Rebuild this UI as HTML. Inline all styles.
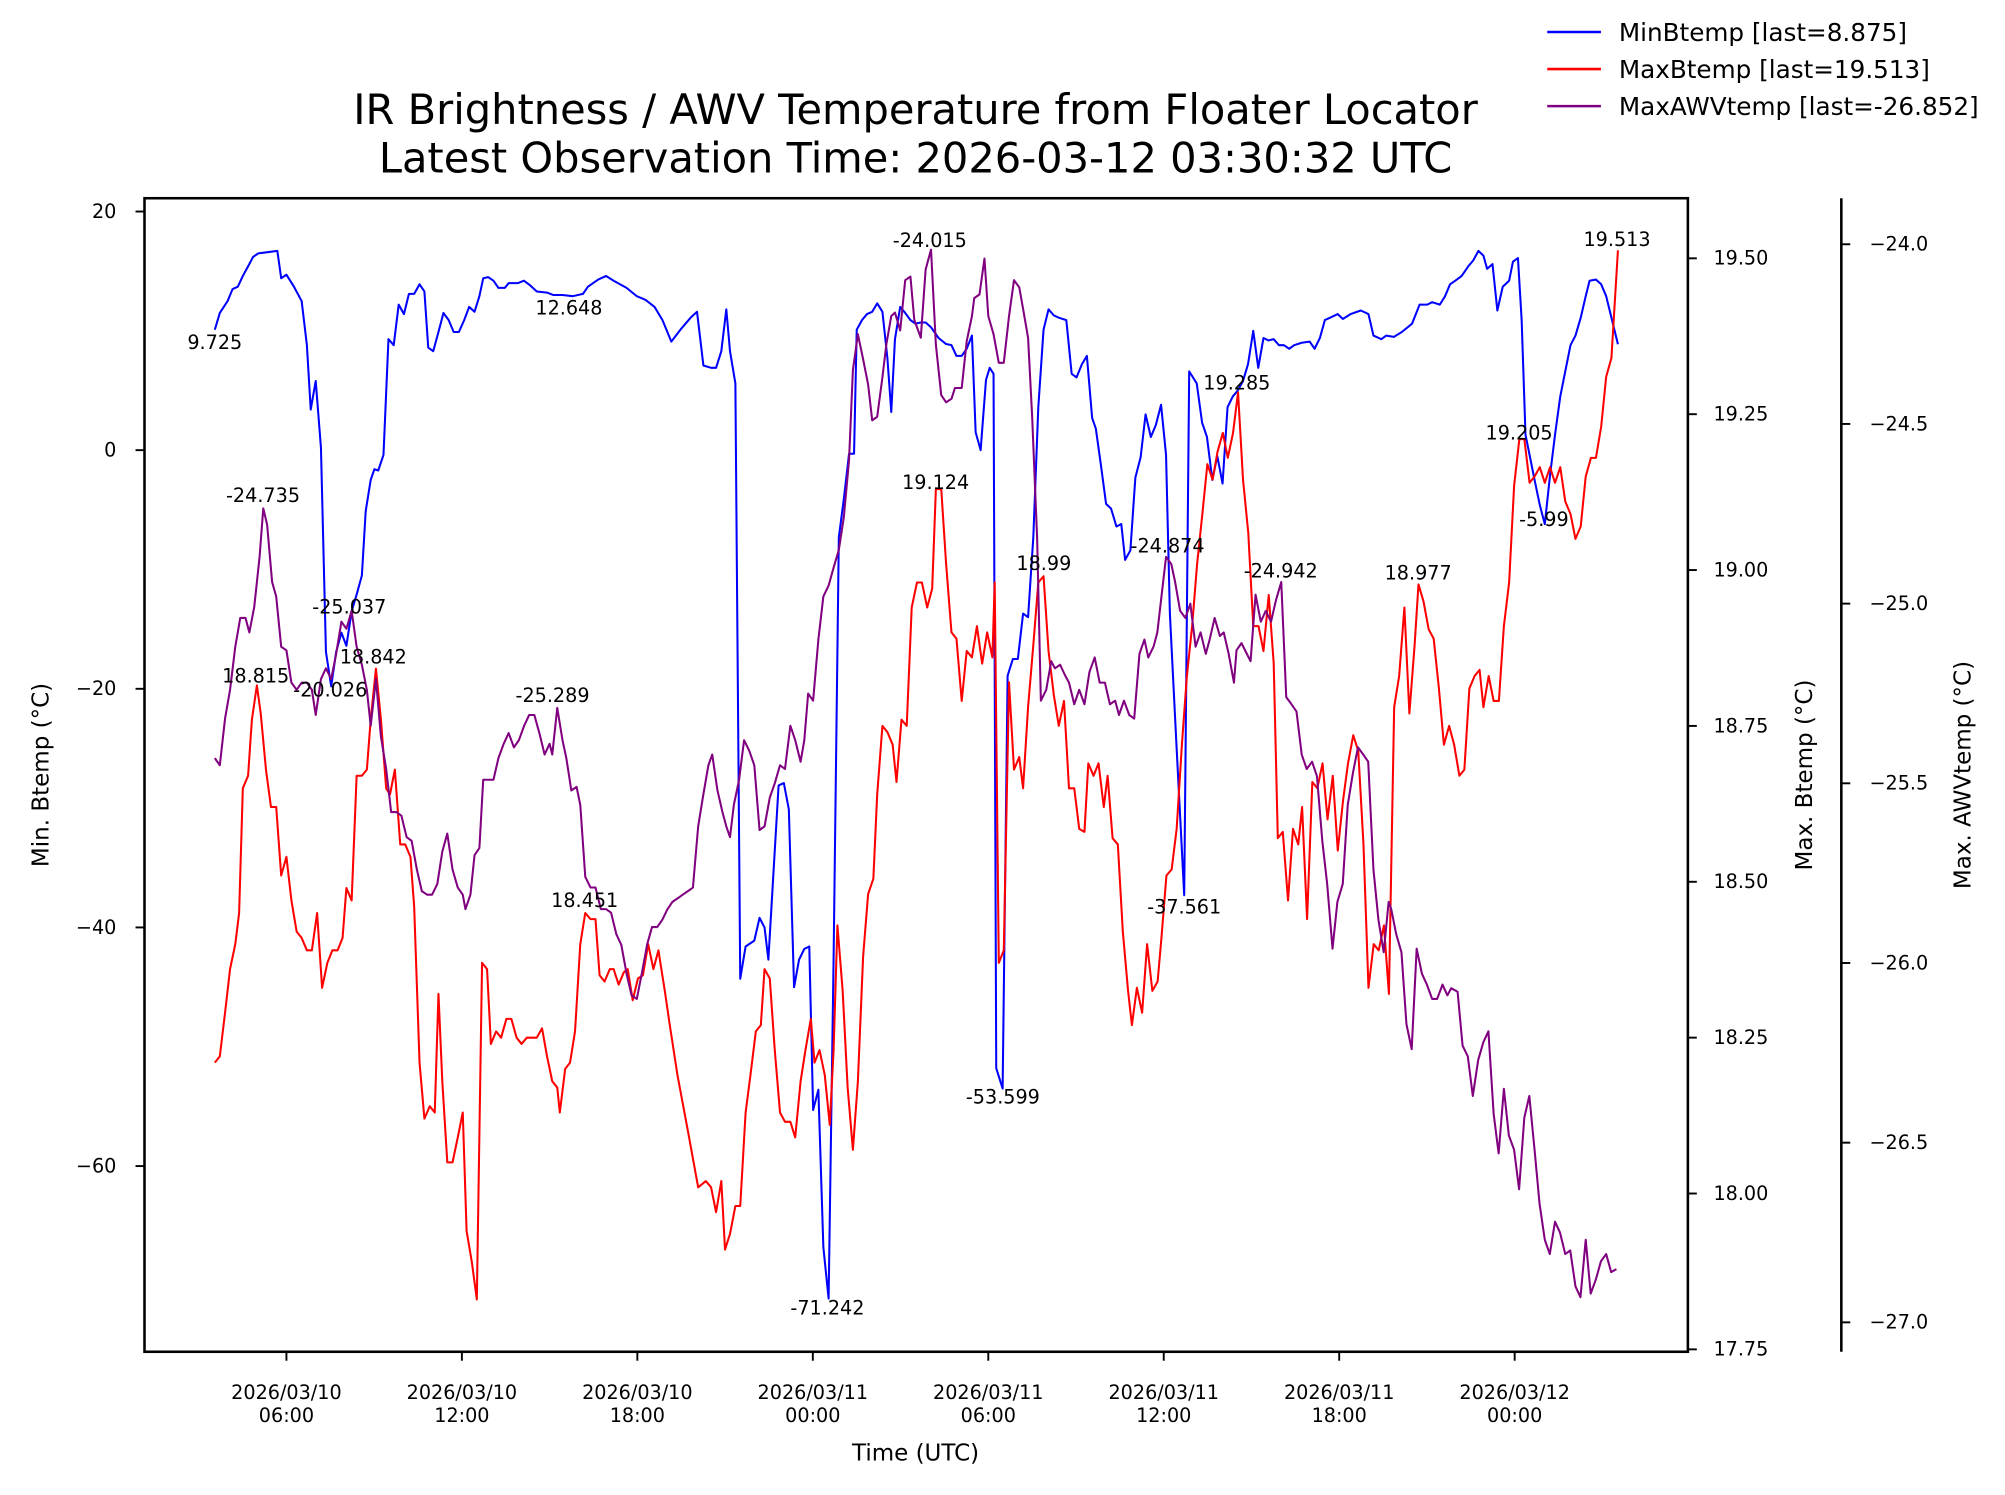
<!DOCTYPE html>
<html><head><meta charset="utf-8">
<style>
html,body{margin:0;padding:0;background:#fff;overflow:hidden;width:2005px;height:1495px;}
svg{display:block;font-family:"DejaVu Sans","Liberation Sans",sans-serif;}
</style></head>
<body>
<svg id="chart" width="2005" height="1495" viewBox="0 0 1568 1169" preserveAspectRatio="none" xmlns="http://www.w3.org/2000/svg">
<rect x="0" y="0" width="1568" height="1169" fill="#fff"/>
<text x="716" y="97" text-anchor="middle" font-size="32.5">IR Brightness / AWV Temperature from Floater Locator</text>
<text x="716" y="135" text-anchor="middle" font-size="32.5">Latest Observation Time: 2026-03-12 03:30:32 UTC</text>
<g id="plot"></g>
<g>
 <g><line x1="1210" y1="25" x2="1252" y2="25" stroke="#0000ff" stroke-width="2"/><text x="1266" y="32" font-size="19.3">MinBtemp [last=8.875]</text></g>
 <g><line x1="1210" y1="54" x2="1252" y2="54" stroke="#ff0000" stroke-width="2"/><text x="1266" y="61" font-size="19.3">MaxBtemp [last=19.513]</text></g>
 <g><line x1="1210" y1="83" x2="1252" y2="83" stroke="#800080" stroke-width="2"/><text x="1266" y="90" font-size="19.3">MaxAWVtemp [last=-26.852]</text></g>
</g>
</svg>
<script>
// ---- data (hours since 2026-03-10 00:00 UTC) ----
const minTimes=[3.55,3.72,3.99,4.16,4.34,4.51,4.69,4.86,5.04,5.39,5.69,5.82,6.0,6.26,6.52,6.70,6.83,7.0,7.18,7.35,7.53,7.70,7.88,8.05,8.23,8.40,8.58,8.71,8.88,9.01,9.14,9.32,9.49,9.67,9.84,10.02,10.19,10.37,10.55,10.72,10.85,11.02,11.20,11.37,11.55,11.72,11.90,12.08,12.25,12.43,12.60,12.73,12.90,13.08,13.25,13.47,13.60,13.91,14.12,14.34,14.56,14.91,15.13,15.44,15.79,16.14,16.31,16.66,16.93,17.19,17.63,17.98,18.28,18.59,18.86,19.16,19.47,19.82,20.04,20.26,20.52,20.69,20.87,21.04,21.17,21.35,21.52,21.70,22.0,22.18,22.35,22.48,22.66,22.83,23.01,23.18,23.36,23.53,23.71,23.88,24.01,24.19,24.36,24.54,24.71,24.89,25.06,25.24,25.41,25.50,25.68,25.85,26.03,26.20,26.38,26.55,26.68,26.81,26.99,27.16,27.34,27.51,27.69,27.86,28.04,28.30,28.56,28.74,28.91,29.09,29.26,29.44,29.57,29.74,29.92,30.05,30.18,30.27,30.49,30.66,30.84,31.01,31.19,31.36,31.54,31.71,31.89,32.06,32.24,32.41,32.67,32.85,33.02,33.20,33.37,33.55,33.68,33.85,34.03,34.20,34.38,34.55,34.68,34.86,35.03,35.21,35.38,35.56,35.73,35.91,36.08,36.21,36.43,36.70,36.87,37.13,37.31,37.48,37.66,37.83,38.01,38.18,38.36,38.53,38.71,38.88,39.06,39.23,39.41,39.58,39.76,39.94,40.11,40.29,40.46,40.72,40.99,41.16,41.34,41.51,41.69,41.95,42.12,42.39,42.74,43.00,43.17,43.44,43.61,43.87,44.14,44.49,44.75,45.01,45.18,45.44,45.62,45.79,45.97,46.19,46.41,46.58,46.76,46.93,47.06,47.24,47.41,47.59,47.81,47.94,48.11,48.24,48.37,48.50,48.68,48.86,49.03,49.21,49.38,49.56,49.73,49.91,50.08,50.26,50.43,50.56,50.78,50.96,51.13,51.31,51.53];
const minBtemp=[10.1,11.5,12.5,13.5,13.7,14.6,15.4,16.2,16.5,16.6,16.7,14.4,14.7,13.7,12.5,8.8,3.4,5.8,0.2,-16.9,-19.8,-16.9,-15.3,-16.4,-13.5,-12.1,-10.5,-5.1,-2.5,-1.6,-1.7,-0.4,9.3,8.8,12.2,11.4,13.1,13.1,13.9,13.3,8.6,8.3,9.9,11.5,10.9,9.9,9.9,10.9,12.0,11.6,12.9,14.4,14.5,14.2,13.6,13.6,14.0,14.0,14.2,13.8,13.3,13.2,13.0,13.0,12.9,13.1,13.7,14.3,14.6,14.2,13.6,12.9,12.6,12.0,10.9,9.1,10.1,11.1,11.6,7.1,6.9,6.9,8.3,11.8,8.3,5.6,-44.3,-41.6,-41.1,-39.2,-40.0,-42.7,-35.2,-28.1,-27.9,-30.1,-45.0,-42.7,-41.8,-41.6,-55.3,-53.6,-66.8,-71.1,-42.7,-7.3,-4.1,-0.3,-0.3,10.1,10.9,11.4,11.6,12.3,11.6,7.7,3.2,9.3,12.0,11.5,10.9,10.6,10.7,10.7,10.3,9.4,8.9,8.8,7.9,7.9,8.5,9.6,1.5,0.0,5.9,6.9,6.4,-51.8,-53.5,-18.9,-17.5,-17.5,-13.7,-14.0,-7.3,3.6,10.1,11.8,11.3,11.1,10.9,6.4,6.1,7.2,7.9,2.7,1.8,-1.2,-4.5,-4.9,-6.4,-6.2,-9.2,-8.4,-2.3,-0.6,3.0,1.1,2.1,3.8,-0.4,-13.7,-24.4,-37.3,6.6,5.6,2.3,1.1,-2.5,-0.5,-2.8,3.6,4.5,5.0,5.8,7.2,10.0,6.9,9.4,9.2,9.3,8.8,8.8,8.5,8.8,9.0,9.1,8.5,9.4,10.9,11.1,11.4,11.0,11.4,11.7,11.4,9.6,9.3,9.6,9.5,9.9,10.6,12.2,12.2,12.4,12.2,12.9,13.9,14.2,14.6,15.4,15.9,16.7,16.3,15.2,15.6,11.7,13.7,14.2,15.8,16.1,10.9,1.3,-0.3,-2.5,-4.6,-6.2,-2.1,1.3,4.5,6.6,8.8,9.6,11.1,12.9,14.2,14.3,13.9,12.9,11.1,8.875];

const maxTimes=[3.55,3.72,3.90,4.07,4.25,4.38,4.51,4.69,4.82,4.99,5.12,5.30,5.47,5.65,5.82,6.0,6.17,6.35,6.52,6.70,6.87,7.05,7.22,7.40,7.57,7.75,7.92,8.05,8.23,8.40,8.58,8.75,8.88,9.06,9.23,9.41,9.54,9.71,9.89,10.06,10.24,10.37,10.55,10.72,10.90,11.07,11.20,11.33,11.50,11.68,11.86,12.03,12.16,12.34,12.51,12.69,12.86,12.99,13.17,13.34,13.52,13.69,13.87,14.04,14.22,14.39,14.56,14.74,14.91,15.09,15.26,15.35,15.53,15.70,15.87,16.05,16.22,16.40,16.57,16.71,16.88,17.06,17.19,17.36,17.54,17.67,17.84,18.02,18.19,18.37,18.55,18.72,18.94,19.11,19.37,19.73,20.08,20.34,20.52,20.69,20.87,21.0,21.17,21.35,21.52,21.70,21.87,22.05,22.22,22.35,22.53,22.70,22.88,23.05,23.23,23.40,23.58,23.75,23.93,24.06,24.23,24.41,24.58,24.71,24.84,25.02,25.19,25.37,25.54,25.72,25.89,26.07,26.20,26.38,26.55,26.73,26.86,27.03,27.21,27.38,27.56,27.73,27.91,28.08,28.21,28.39,28.56,28.74,28.91,29.09,29.26,29.44,29.61,29.79,29.96,30.14,30.22,30.36,30.53,30.71,30.88,31.06,31.19,31.36,31.54,31.71,31.89,32.06,32.24,32.41,32.59,32.76,32.94,33.11,33.29,33.42,33.60,33.77,33.95,34.08,34.25,34.43,34.60,34.78,34.91,35.08,35.26,35.43,35.61,35.79,35.92,36.09,36.27,36.44,36.62,36.79,36.97,37.14,37.32,37.49,37.67,37.84,38.02,38.19,38.37,38.54,38.71,38.89,39.06,39.24,39.41,39.59,39.76,39.90,40.07,40.25,40.42,40.60,40.73,40.90,41.08,41.25,41.43,41.60,41.78,41.95,42.13,42.30,42.48,42.65,42.83,43.0,43.18,43.35,43.53,43.70,43.88,44.05,44.23,44.40,44.58,44.71,44.88,45.06,45.23,45.41,45.58,45.76,45.93,46.11,46.28,46.45,46.63,46.80,46.93,47.11,47.28,47.46,47.63,47.81,47.98,48.16,48.33,48.51,48.68,48.86,49.03,49.21,49.38,49.56,49.73,49.91,50.08,50.26,50.43,50.61,50.78,50.96,51.13,51.31,51.53];
const maxBtemp=[18.21,18.22,18.29,18.36,18.40,18.45,18.65,18.67,18.76,18.815,18.77,18.68,18.62,18.62,18.51,18.54,18.47,18.42,18.41,18.39,18.39,18.45,18.33,18.37,18.39,18.39,18.41,18.49,18.47,18.67,18.67,18.68,18.76,18.842,18.76,18.65,18.64,18.68,18.56,18.56,18.54,18.46,18.21,18.12,18.14,18.13,18.32,18.18,18.05,18.05,18.09,18.13,17.94,17.89,17.83,18.37,18.36,18.24,18.26,18.25,18.28,18.28,18.25,18.24,18.25,18.25,18.25,18.265,18.22,18.18,18.17,18.13,18.20,18.21,18.26,18.40,18.45,18.44,18.44,18.35,18.34,18.36,18.36,18.335,18.355,18.36,18.31,18.345,18.35,18.40,18.36,18.39,18.325,18.27,18.19,18.10,18.01,18.02,18.01,17.97,18.02,17.91,17.935,17.98,17.98,18.13,18.19,18.26,18.27,18.36,18.345,18.23,18.13,18.115,18.115,18.09,18.18,18.23,18.28,18.21,18.23,18.19,18.11,18.23,18.43,18.325,18.17,18.07,18.18,18.38,18.48,18.505,18.64,18.75,18.74,18.72,18.66,18.76,18.75,18.94,18.98,18.98,18.94,18.97,19.13,19.13,19.01,18.90,18.89,18.79,18.87,18.86,18.91,18.85,18.90,18.86,18.98,18.37,18.39,18.82,18.68,18.70,18.65,18.78,18.88,18.98,18.99,18.87,18.80,18.75,18.79,18.65,18.65,18.585,18.58,18.69,18.67,18.69,18.62,18.67,18.57,18.56,18.42,18.325,18.27,18.33,18.29,18.40,18.325,18.34,18.41,18.51,18.52,18.585,18.72,18.83,18.91,19.01,19.09,19.17,19.145,19.19,19.22,19.18,19.22,19.285,19.145,19.06,18.91,18.91,18.87,18.96,18.85,18.57,18.58,18.47,18.585,18.56,18.62,18.44,18.66,18.65,18.69,18.60,18.67,18.55,18.63,18.69,18.735,18.71,18.56,18.33,18.40,18.39,18.43,18.32,18.78,18.83,18.94,18.77,18.88,18.977,18.95,18.905,18.89,18.81,18.72,18.75,18.72,18.67,18.68,18.81,18.83,18.84,18.78,18.83,18.79,18.79,18.91,18.98,19.135,19.21,19.21,19.14,19.15,19.165,19.14,19.165,19.14,19.165,19.11,19.09,19.05,19.07,19.15,19.18,19.18,19.23,19.31,19.34,19.513];

const awvTimes=[3.55,3.72,3.90,4.07,4.25,4.42,4.60,4.73,4.90,5.08,5.21,5.34,5.51,5.65,5.82,6.0,6.17,6.35,6.52,6.70,6.87,7.00,7.18,7.35,7.53,7.70,7.88,8.05,8.23,8.40,8.58,8.75,8.88,9.06,9.23,9.41,9.58,9.76,9.93,10.11,10.28,10.46,10.63,10.81,10.98,11.16,11.33,11.50,11.68,11.86,12.03,12.12,12.29,12.43,12.60,12.73,12.90,13.08,13.25,13.43,13.60,13.78,13.95,14.13,14.30,14.48,14.65,14.83,15.00,15.09,15.26,15.44,15.57,15.74,15.92,16.05,16.22,16.40,16.57,16.75,16.93,17.10,17.28,17.45,17.63,17.80,17.98,18.15,18.33,18.50,18.68,18.85,19.03,19.20,19.38,19.55,19.73,19.90,20.08,20.26,20.43,20.56,20.74,20.91,21.04,21.17,21.30,21.48,21.65,21.83,22.0,22.18,22.35,22.53,22.70,22.88,23.05,23.23,23.40,23.58,23.71,23.84,24.01,24.19,24.36,24.54,24.71,24.89,25.06,25.24,25.37,25.54,25.72,25.89,26.03,26.20,26.38,26.51,26.68,26.81,26.99,27.16,27.34,27.47,27.69,27.86,28.04,28.21,28.39,28.56,28.74,28.86,29.09,29.26,29.44,29.52,29.70,29.87,30.00,30.18,30.36,30.53,30.71,30.88,31.06,31.19,31.36,31.50,31.67,31.80,31.98,32.15,32.28,32.46,32.63,32.76,32.94,33.11,33.29,33.46,33.64,33.81,33.99,34.16,34.34,34.47,34.64,34.82,34.99,35.17,35.34,35.47,35.65,35.78,35.91,36.08,36.26,36.39,36.56,36.74,36.91,37.09,37.26,37.44,37.57,37.74,37.92,38.05,38.22,38.40,38.49,38.66,38.84,38.97,39.14,39.32,39.49,39.67,39.84,40.02,40.19,40.37,40.54,40.72,40.89,41.07,41.24,41.42,41.59,41.77,41.94,42.12,42.29,42.47,42.64,42.82,42.99,43.17,43.34,43.52,43.69,43.78,43.95,44.13,44.30,44.48,44.65,44.83,45.00,45.18,45.35,45.53,45.70,45.83,46.05,46.22,46.40,46.57,46.75,46.93,47.10,47.28,47.45,47.63,47.80,47.98,48.15,48.33,48.50,48.68,48.85,49.03,49.20,49.38,49.55,49.73,49.90,50.08,50.25,50.43,50.60,50.78,50.95,51.13,51.30,51.48,51.57];
const awvTemp=[-25.43,-25.45,-25.32,-25.24,-25.12,-25.04,-25.04,-25.08,-25.01,-24.87,-24.735,-24.78,-24.94,-24.98,-25.12,-25.13,-25.22,-25.24,-25.22,-25.22,-25.24,-25.31,-25.21,-25.18,-25.21,-25.14,-25.05,-25.07,-25.02,-25.12,-25.17,-25.24,-25.34,-25.21,-25.37,-25.46,-25.58,-25.58,-25.59,-25.65,-25.66,-25.74,-25.80,-25.81,-25.81,-25.78,-25.69,-25.64,-25.74,-25.79,-25.81,-25.85,-25.81,-25.70,-25.68,-25.49,-25.49,-25.49,-25.43,-25.39,-25.36,-25.40,-25.38,-25.34,-25.31,-25.31,-25.36,-25.42,-25.39,-25.42,-25.29,-25.38,-25.43,-25.52,-25.51,-25.56,-25.76,-25.79,-25.79,-25.85,-25.85,-25.86,-25.92,-25.95,-26.03,-26.09,-26.10,-26.03,-25.95,-25.90,-25.90,-25.88,-25.85,-25.83,-25.82,-25.81,-25.80,-25.79,-25.62,-25.53,-25.45,-25.42,-25.52,-25.58,-25.62,-25.65,-25.56,-25.49,-25.38,-25.41,-25.45,-25.63,-25.62,-25.54,-25.50,-25.45,-25.46,-25.34,-25.38,-25.44,-25.38,-25.25,-25.27,-25.10,-24.98,-24.95,-24.90,-24.85,-24.76,-24.60,-24.35,-24.25,-24.32,-24.39,-24.49,-24.48,-24.37,-24.28,-24.20,-24.19,-24.24,-24.10,-24.09,-24.21,-24.26,-24.07,-24.015,-24.28,-24.42,-24.44,-24.43,-24.40,-24.40,-24.27,-24.20,-24.15,-24.14,-24.04,-24.20,-24.25,-24.33,-24.33,-24.20,-24.10,-24.12,-24.18,-24.26,-24.48,-24.82,-25.27,-25.24,-25.16,-25.18,-25.17,-25.20,-25.22,-25.28,-25.24,-25.28,-25.19,-25.15,-25.22,-25.22,-25.28,-25.27,-25.31,-25.27,-25.31,-25.32,-25.14,-25.10,-25.15,-25.12,-25.08,-24.99,-24.87,-24.89,-24.94,-25.02,-25.04,-25.00,-25.12,-25.08,-25.14,-25.10,-25.04,-25.09,-25.08,-25.14,-25.22,-25.13,-25.11,-25.14,-25.16,-24.975,-25.05,-25.02,-25.05,-24.99,-24.94,-25.26,-25.28,-25.30,-25.42,-25.46,-25.44,-25.48,-25.66,-25.78,-25.96,-25.83,-25.78,-25.56,-25.47,-25.40,-25.42,-25.44,-25.74,-25.88,-25.97,-25.83,-25.85,-25.92,-25.97,-26.17,-26.24,-25.96,-26.03,-26.06,-26.10,-26.10,-26.06,-26.09,-26.07,-26.08,-26.23,-26.26,-26.37,-26.27,-26.22,-26.19,-26.42,-26.53,-26.35,-26.48,-26.52,-26.63,-26.43,-26.37,-26.52,-26.67,-26.77,-26.81,-26.72,-26.75,-26.81,-26.80,-26.90,-26.93,-26.77,-26.92,-26.88,-26.83,-26.81,-26.86,-26.852];

const xTickHours=[6,12,18,24,30,36,42,48];
const xTickLabels=[["2026/03/10","06:00"],["2026/03/10","12:00"],["2026/03/10","18:00"],["2026/03/11","00:00"],["2026/03/11","06:00"],["2026/03/11","12:00"],["2026/03/11","18:00"],["2026/03/12","00:00"]];
const minTicks=[20,0,-20,-40,-60];
const maxTicks=[19.5,19.25,19.0,18.75,18.5,18.25,18.0,17.75];
const maxTickLabels=["19.50","19.25","19.00","18.75","18.50","18.25","18.00","17.75"];
const awvTicks=[-24.0,-24.5,-25.0,-25.5,-26.0,-26.5,-27.0];
const awvTickLabels=["−24.0","−24.5","−25.0","−25.5","−26.0","−26.5","−27.0"];
const annLabels=["9.725","12.648","-20.026","-5.99","-71.242","-53.599","-37.561","18.815","18.842","18.451","19.124","18.99","19.285","18.977","19.205","19.513","-24.735","-25.037","-25.289","-24.015","-24.874","-24.942"];
const annSeries=["min","min","min","min","min","min","min","max","max","max","max","max","max","max","max","max","awv","awv","awv","awv","awv","awv"];
const annHours=[3.55,15.66,7.5,49.0,24.5,30.5,36.7,4.95,8.97,16.2,28.2,31.9,38.5,44.7,48.15,51.5,5.2,8.15,15.1,28.0,36.13,40.0];
const annValues=[9.0,11.9,-20.1,-5.8,-71.9,-54.2,-38.3,18.83,18.86,18.47,19.14,19.01,19.30,18.995,19.22,19.53,-24.70,-25.01,-25.256,-23.99,-24.84,-24.91];

// ---- scales ----
const L=113,R=1320,T=155,B=1057;
function xs(h){return 224+(h-6)*22.87;}
function yMin(v){return 352-v*9.33;}
function yMax(v){return 202+(19.5-v)*487.5;}
function yAwv(v){return 191+(-24-v)*281;}
const NS="http://www.w3.org/2000/svg";
const plot=document.getElementById('plot');
function mk(tag,attrs,parent){const e=document.createElementNS(NS,tag);for(const k in attrs)e.setAttribute(k,attrs[k]);(parent||plot).appendChild(e);return e;}

const clip=mk('clipPath',{id:'clipPlot'});
mk('rect',{x:L,y:T,width:R-L,height:B-T},clip);
const g=mk('g',{'clip-path':'url(#clipPlot)'});


function lineG(times,vals,yf,color,name){
  let d='';
  for(let i=0;i<times.length;i++){d+=(i?'L':'M')+xs(times[i]).toFixed(1)+','+yf(vals[i]).toFixed(1);}
  const p=mk('path',{d:d,fill:'none',stroke:color,'stroke-width':1.6,'stroke-linejoin':'round'},g);
  
  
}
lineG(minTimes,minBtemp,yMin,'#0000ff','minbtemp-line');
lineG(maxTimes,maxBtemp,yMax,'#ff0000','maxbtemp-line');
lineG(awvTimes,awvTemp,yAwv,'#800080','maxawvtemp-line');

const fr=mk('rect',{x:L,y:T,width:R-L,height:B-T,fill:'none',stroke:'#000','stroke-width':2});


const sp=mk('line',{x1:1440,y1:T,x2:1440,y2:B,stroke:'#000','stroke-width':2});



xTickHours.forEach((h,i)=>{
  const x=xs(h);
  const t=mk('line',{x1:x,y1:B,x2:x,y2:B+7,stroke:'#000','stroke-width':1.5});
  
  
  const tx=mk('text',{x:x,y:B+37,'text-anchor':'middle','font-size':15});
  
  
  tx.textContent=xTickLabels[i][0];
  const tx2=mk('text',{x:x,y:B+55,'text-anchor':'middle','font-size':15});
  
  
  tx2.textContent=xTickLabels[i][1];
});
minTicks.forEach(v=>{
  const y=yMin(v);
  const t=mk('line',{x1:L-7,y1:y,x2:L,y2:y,stroke:'#000','stroke-width':1.5});
  
  
  const tx=mk('text',{x:L-22,y:y+5,'text-anchor':'end','font-size':15});
  
  
  tx.textContent=v<0?'−'+Math.abs(v):String(v);
});
maxTicks.forEach((v,i)=>{
  const y=yMax(v);
  const t=mk('line',{x1:R,y1:y,x2:R+7,y2:y,stroke:'#000','stroke-width':1.5});
  
  
  const tx=mk('text',{x:R+20,y:y+5,'font-size':15});
  
  
  tx.textContent=maxTickLabels[i];
});
awvTicks.forEach((v,i)=>{
  const y=yAwv(v);
  const t=mk('line',{x1:1440,y1:y,x2:1447,y2:y,stroke:'#000','stroke-width':1.5});
  
  
  const tx=mk('text',{x:1462,y:y+5,'font-size':15});
  
  
  tx.textContent=awvTickLabels[i];
});
function title(txt,x,y,rot,name){
  const e=mk('text',{x:x,y:y,'text-anchor':'middle','font-size':18,transform:rot?'rotate(-90 '+x+' '+y+')':''});
  
  
  e.textContent=txt;
}
title('Time (UTC)',716,1142,false,'x-axis-title');
title('Min. Btemp (°C)',38,606,true,'y-left-axis-title');
title('Max. Btemp (°C)',1417,606,true,'y-right-axis-title');
title('Max. AWVtemp (°C)',1541,606,true,'y-awv-axis-title');
annLabels.forEach((s,i)=>{
  const yf=annSeries[i]==='min'?yMin:(annSeries[i]==='max'?yMax:yAwv);
  const e=mk('text',{x:xs(annHours[i]),y:yf(annValues[i])+5,'text-anchor':'middle','font-size':15});
  
  
  e.textContent=s;
});
</script>
</body></html>
